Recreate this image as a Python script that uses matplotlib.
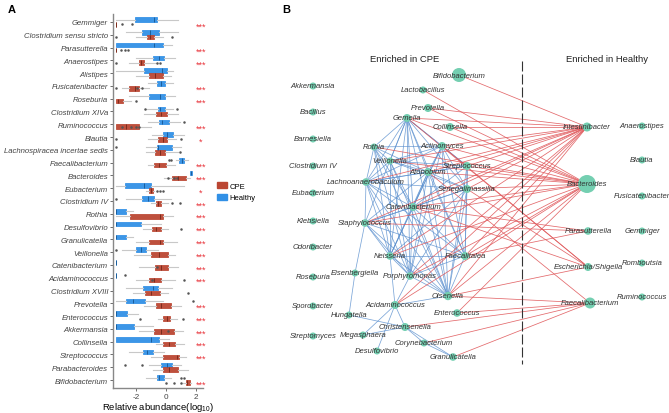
import matplotlib.pyplot as plt
from matplotlib.patches import Circle, Patch

plt.rcParams['font.family'] = ['Liberation Sans', 'DejaVu Sans']
plt.rcParams['mathtext.fontset'] = 'custom'
plt.rcParams['mathtext.rm'] = 'Liberation Sans'

# ---------------- panel A data (log10 relative abundance) ----------------
genera = ['Gemmiger', 'Clostridium sensu stricto', 'Parasutterella', 'Anaerostipes',
          'Alistipes', 'Fusicatenibacter', 'Roseburia', 'Clostridium XIVa',
          'Ruminococcus', 'Blautia', 'Lachnospiracea incertae sedis', 'Faecalibacterium',
          'Bacteroides', 'Eubacterium', 'Clostridium IV', 'Rothia', 'Desulfovibrio',
          'Granulicatella', 'Veillonella', 'Catenibacterium', 'Acidaminococcus',
          'Clostridium XVIII', 'Prevotella', 'Enterococcus', 'Akkermansia',
          'Collinsella', 'Streptococcus', 'Parabacteroides', 'Bifidobacterium']

# [whisker low, q1, median, q3, whisker high]
healthy_stats = [
    [-3.33, -2.04, -0.78, -0.58, 0.78], [-2.67, -1.60, -1.04, -0.44, 0.78],
    [-3.33, -3.33, -0.78, -0.18, 0.40], [-2.00, -0.84, -0.49, -0.11, 0.56],
    [-3.33, -1.44, -0.27, 0.04, 0.44], [-1.20, -0.62, -0.33, -0.04, 0.44],
    [-2.44, -1.16, -0.40, -0.04, 0.56], [-1.33, -0.56, -0.40, -0.04, 0.44],
    [-1.20, -0.44, -0.27, 0.22, 0.90], [-0.90, -0.22, 0.04, 0.44, 1.20],
    [-1.33, -0.62, -0.56, 0.40, 1.00], [0.67, 0.89, 1.04, 1.18, 1.44],
    [1.58, 1.60, 1.67, 1.71, 1.73], [-3.33, -2.71, -1.44, -1.00, 1.20],
    [-2.67, -1.62, -1.22, -0.78, 0.33], [-3.33, -3.33, -3.33, -2.67, -2.22],
    [-3.33, -3.33, -3.33, -1.67, -0.33], [-3.33, -3.33, -3.33, -2.67, -2.22],
    [-2.90, -2.00, -1.67, -1.33, -0.56], [-3.33, -3.33, -3.33, -3.33, -3.33],
    [-3.33, -3.33, -3.33, -3.33, -3.33], [-2.67, -1.51, -0.89, -0.56, 0.40],
    [-3.33, -2.67, -2.22, -1.38, -0.18], [-3.33, -3.33, -3.33, -2.62, -1.89],
    [-3.33, -3.33, -3.33, -2.11, -0.89], [-3.33, -3.33, -1.00, -0.44, 0.22],
    [-2.44, -1.51, -1.29, -0.84, -0.11], [-1.11, -0.33, 0.04, 0.40, 1.00],
    [-1.33, -0.62, -0.44, -0.11, 0.33]]
healthy_fliers = [[], [], [], [], [], [], [], [-1.4, 0.7], [1.2], [], [-3.33],
                  [0.2, 0.35], [], [], [-3.33], [], [], [], [-3.33], [], [-2.7],
                  [], [1.8], [], [], [], [], [-2.7, -1.6], [1.0, 1.2]]

cpe_stats = [
    [-3.33, -3.33, -3.33, -3.33, -3.33], [-2.00, -1.29, -1.07, -0.82, -0.22],
    [-3.33, -3.33, -3.33, -3.33, -3.33], [-2.44, -1.78, -1.64, -1.49, -0.67],
    [-2.00, -1.11, -0.76, -0.18, 0.33], [-2.90, -2.44, -2.04, -1.78, -1.10],
    [-3.33, -3.33, -3.20, -2.84, -2.30], [-1.44, -0.67, -0.33, 0.04, 0.78],
    [-3.33, -3.33, -2.67, -1.82, -1.00], [-1.20, -0.51, -0.18, 0.04, 0.67],
    [-1.33, -0.71, -0.40, -0.04, 0.78], [-1.20, -0.82, -0.44, 0.00, 0.56],
    [-0.11, 0.40, 0.78, 1.29, 1.56], [-1.33, -1.11, -1.00, -0.89, -0.78],
    [-1.00, -0.67, -0.51, -0.33, 0.11], [-3.33, -2.40, -0.40, -0.18, 0.44],
    [-1.56, -0.93, -0.67, -0.33, 0.11], [-2.00, -1.16, -0.40, -0.18, 0.71],
    [-2.10, -1.00, -0.44, 0.11, 0.56], [-1.78, -0.73, -0.33, 0.11, 0.78],
    [-2.00, -1.16, -0.78, -0.33, 0.56], [-2.22, -1.38, -1.00, -0.40, 0.11],
    [-1.44, -0.67, -0.33, 0.33, 1.00], [-0.56, -0.22, 0.04, 0.29, 0.71],
    [-1.78, -0.82, -0.33, 0.51, 1.10], [-0.67, -0.18, 0.22, 0.62, 1.22],
    [-1.00, -0.18, 0.71, 0.84, 1.33], [-0.89, -0.18, 0.22, 0.78, 1.44],
    [1.15, 1.29, 1.40, 1.56, 1.65]]
cpe_fliers = [[-2.9, -2.25], [-3.33, 0.38], [-3.0, -2.7, -2.5], [-3.33, -0.6, -0.4],
              [], [-3.33, -1.9, -1.6], [-2.0], [], [-2.9, -2.3, -2.0, -1.8],
              [-3.33, 1.0], [0.9], [], [0.1, 0.5, 0.7], [-0.6, -0.4, -0.2],
              [0.4, 0.9], [], [1.0], [], [], [-0.6], [-0.9, 1.2], [1.44], [],
              [-1.7, 1.1], [0.1], [], [], [], [0.0, 0.5, 1.0]]

significance = ['***', '', '***', '***', '', '***', '***', '', '***', '*', '',
                '***', '***', '*', '***', '***', '***', '***', '***', '***', '***',
                '', '***', '***', '***', '***', '***', '', '***']

# ---------------- panel B data (network layout, pixel positions) ----------------
node_names = ['Akkermansia', 'Bacillus', 'Barnesiella', 'Clostridium IV', 'Eubacterium',
              'Klebsiella', 'Odoribacter', 'Roseburia', 'Sporobacter', 'Streptomyces',
              'Bifidobacterium', 'Lactobacillus', 'Prevotella', 'Gemella', 'Collinsella',
              'Rothia', 'Actinomyces', 'Veillonella', 'Atopobium', 'Streptococcus',
              'Lachnoanaerobaculum', 'Senegalimassilia', 'Catenibacterium',
              'Staphylococcus', 'Neisseria', 'Faecalitalea', 'Eisenbergiella',
              'Porphyromonas', 'Olsenella', 'Acidaminococcus', 'Enterococcus',
              'Hungatella', 'Christensenella', 'Megasphaera', 'Corynebacterium',
              'Desulfovibrio', 'Granulicatella',
              'Intestinibacter', 'Anaerostipes', 'Blautia', 'Bacteroides',
              'Fusicatenibacter', 'Parasutterella', 'Gemmiger', 'Escherichia/Shigella',
              'Romboutsia', 'Faecalibacterium', 'Ruminococcus']
node_x = [313, 313, 313, 313, 313, 313, 313, 313, 313, 313,
          459, 423, 428, 407, 450, 374, 442, 390, 428, 467,
          366, 467, 413, 365, 390, 465, 355, 410, 448, 395,
          457, 349, 405, 363, 424, 377, 453,
          587, 642, 642, 587, 642, 588, 642, 588, 642, 590, 642]
node_y = [87, 113, 140, 167, 194, 222, 248, 278, 307, 337,
          76, 91, 109, 119, 128, 148, 147, 162, 173, 167,
          183, 190, 208, 224, 257, 257, 274, 277, 297, 306,
          314, 316, 328, 336, 344, 352, 358,
          128, 127, 161, 185, 197, 232, 232, 268, 264, 304, 298]
node_r = [3.5, 3.5, 3.5, 3.5, 3.5, 3.5, 3.5, 3.5, 3.5, 3.5,
          7.0, 3.5, 4.0, 4.0, 4.0, 3.5, 4.0, 3.5, 4.0, 4.0,
          3.8, 4.0, 4.0, 3.8, 3.8, 4.0, 3.5, 3.8, 4.2, 4.0,
          3.8, 3.5, 4.0, 3.5, 3.5, 3.5, 3.8,
          4.5, 3.5, 3.5, 9.0, 3.5, 3.8, 3.5, 4.0, 3.5, 5.5, 3.5]

blue_edges = [
    ('Gemella', t) for t in ['Rothia', 'Veillonella', 'Actinomyces', 'Atopobium',
                             'Lachnoanaerobaculum', 'Catenibacterium', 'Senegalimassilia',
                             'Staphylococcus', 'Neisseria', 'Porphyromonas', 'Olsenella',
                             'Faecalitalea', 'Streptococcus']] + [
    ('Rothia', t) for t in ['Veillonella', 'Lachnoanaerobaculum', 'Atopobium',
                            'Catenibacterium', 'Neisseria', 'Olsenella', 'Porphyromonas',
                            'Actinomyces']] + [
    ('Veillonella', t) for t in ['Atopobium', 'Actinomyces', 'Lachnoanaerobaculum',
                                 'Catenibacterium', 'Neisseria', 'Olsenella',
                                 'Porphyromonas', 'Senegalimassilia', 'Streptococcus']] + [
    ('Actinomyces', t) for t in ['Atopobium', 'Streptococcus', 'Senegalimassilia',
                                 'Catenibacterium', 'Lachnoanaerobaculum', 'Olsenella',
                                 'Faecalitalea', 'Porphyromonas', 'Neisseria']] + [
    ('Atopobium', t) for t in ['Streptococcus', 'Senegalimassilia', 'Lachnoanaerobaculum',
                               'Catenibacterium', 'Olsenella', 'Faecalitalea',
                               'Porphyromonas', 'Neisseria', 'Staphylococcus']] + [
    ('Streptococcus', t) for t in ['Senegalimassilia', 'Catenibacterium', 'Olsenella',
                                   'Faecalitalea', 'Lachnoanaerobaculum']] + [
    ('Lachnoanaerobaculum', t) for t in ['Catenibacterium', 'Staphylococcus', 'Neisseria',
                                         'Porphyromonas', 'Olsenella', 'Senegalimassilia',
                                         'Faecalitalea']] + [
    ('Senegalimassilia', t) for t in ['Catenibacterium', 'Olsenella', 'Faecalitalea',
                                      'Neisseria', 'Porphyromonas', 'Staphylococcus']] + [
    ('Catenibacterium', t) for t in ['Staphylococcus', 'Neisseria', 'Porphyromonas',
                                     'Olsenella', 'Faecalitalea']] + [
    ('Staphylococcus', t) for t in ['Neisseria', 'Porphyromonas', 'Olsenella',
                                    'Eisenbergiella', 'Faecalitalea']] + [
    ('Neisseria', t) for t in ['Porphyromonas', 'Olsenella', 'Faecalitalea',
                               'Acidaminococcus']] + [
    ('Porphyromonas', 'Olsenella'), ('Porphyromonas', 'Acidaminococcus'),
    ('Porphyromonas', 'Faecalitalea'), ('Olsenella', 'Faecalitalea'),
    ('Olsenella', 'Acidaminococcus'), ('Eisenbergiella', 'Hungatella'),
    ('Hungatella', 'Christensenella'), ('Acidaminococcus', 'Megasphaera'),
    ('Acidaminococcus', 'Christensenella'), ('Acidaminococcus', 'Desulfovibrio'),
    ('Christensenella', 'Corynebacterium'), ('Christensenella', 'Megasphaera'),
    ('Christensenella', 'Granulicatella'), ('Corynebacterium', 'Granulicatella')]

red_edges = [
    ('Intestinibacter', s) for s in ['Bifidobacterium', 'Gemella', 'Prevotella',
                                     'Collinsella', 'Actinomyces', 'Streptococcus',
                                     'Atopobium', 'Senegalimassilia', 'Catenibacterium',
                                     'Lachnoanaerobaculum', 'Veillonella', 'Staphylococcus',
                                     'Faecalitalea', 'Neisseria', 'Olsenella',
                                     'Porphyromonas', 'Acidaminococcus']] + [
    ('Bacteroides', s) for s in ['Lactobacillus', 'Gemella', 'Prevotella', 'Collinsella',
                                 'Actinomyces', 'Streptococcus', 'Atopobium',
                                 'Senegalimassilia', 'Catenibacterium', 'Rothia',
                                 'Veillonella', 'Staphylococcus', 'Neisseria',
                                 'Faecalitalea', 'Olsenella', 'Porphyromonas',
                                 'Acidaminococcus', 'Enterococcus']] + [
    ('Parasutterella', s) for s in ['Catenibacterium', 'Staphylococcus',
                                    'Faecalitalea']] + [
    ('Escherichia/Shigella', s) for s in ['Gemella', 'Actinomyces', 'Senegalimassilia',
                                          'Olsenella', 'Catenibacterium']] + [
    ('Faecalibacterium', s) for s in ['Atopobium', 'Enterococcus', 'Christensenella',
                                      'Corynebacterium', 'Granulicatella', 'Olsenella']]

blue = '#3190e6'
red = '#bb4632'

fig = plt.figure(figsize=(6.69, 4.14), dpi=100)

# ---------------- panel A ----------------
ax = fig.add_axes([113 / 669, 1 - 389 / 414, 90 / 669, 374 / 414])


def make_stats(stats, fliers):
    out = []
    for s, f in zip(stats, fliers):
        out.append(dict(whislo=s[0], q1=s[1], med=s[2], q3=s[3], whishi=s[4],
                        fliers=f))
    return out


rows = list(range(len(genera)))
for stats, fliers, off, col, dark in [(healthy_stats, healthy_fliers, -0.19, blue, '#1b5e9c'),
                                     (cpe_stats, cpe_fliers, 0.19, red, '#7a2b1d')]:
    ax.bxp(make_stats(stats, fliers), positions=[r + off for r in rows],
           widths=0.36, orientation='horizontal', patch_artist=True,
           showcaps=False, manage_ticks=False,
           boxprops=dict(facecolor=col, edgecolor=col, linewidth=0.6, alpha=0.95),
           whiskerprops=dict(color='#c8c8c8', linewidth=0.8),
           medianprops=dict(color=dark, linewidth=0.7),
           flierprops=dict(marker='o', markersize=0.8, markerfacecolor='#555',
                           markeredgecolor='#555', linestyle='none'))

for r, sig in zip(rows, significance):
    if sig:
        ax.text(2.3, r + 0.3, sig, color='#e8333a', fontsize=6.5, ha='center',
                va='center', clip_on=False)

ax.set_xlim(-3.52, 2.45)
ax.set_ylim(28.62, -0.62)
ax.set_yticks(rows)
ax.set_yticklabels(genera, fontsize=5.6, style='italic', color='#444')
ax.set_xticks([-2, 0, 2])
ax.set_xticklabels(['-2', '0', '2'], fontsize=5.9, color='#444')
ax.tick_params(length=2, width=0.6, color='#555', pad=1.5)
for side in ['top', 'right']:
    ax.spines[side].set_visible(False)
for side in ['left', 'bottom']:
    ax.spines[side].set_color('#888')
    ax.spines[side].set_linewidth(1.0)
ax.set_xlabel('Relative abundance' + r'$\left(\mathregular{log_{10}}\right)$',
              fontsize=6.8, labelpad=0)

ax.legend(handles=[Patch(facecolor=red, edgecolor=red, label='CPE'),
                   Patch(facecolor=blue, edgecolor=blue, label='Healthy')],
          loc='center left', bbox_to_anchor=(1.08, 0.525), frameon=False,
          fontsize=5.5, handlelength=1.3, handleheight=0.9, handletextpad=0.3,
          labelspacing=0.5)

fig.text(8 / 669, 1 - 10 / 414, 'A', fontsize=8, fontweight='bold', va='center')
fig.text(282 / 669, 1 - 10 / 414, 'B', fontsize=8, fontweight='bold', va='center')

# ---------------- panel B ----------------
bx = fig.add_axes([280 / 669, 0, 389 / 669, 1])
bx.set_xlim(280, 669)
bx.set_ylim(414, 0)
bx.axis('off')

pos = {n: (x, y) for n, x, y in zip(node_names, node_x, node_y)}
for a, b in blue_edges:
    bx.plot([pos[a][0], pos[b][0]], [pos[a][1], pos[b][1]], color='#5a8fce',
            lw=0.55, alpha=0.8, zorder=1)
for a, b in red_edges:
    bx.plot([pos[a][0], pos[b][0]], [pos[a][1], pos[b][1]], color='#e0585b',
            lw=0.55, alpha=0.9, zorder=1)

bx.plot([521.7, 521.7], [62, 365], color='#333', lw=0.8, dashes=(9, 2.7), zorder=1)

for n, x, y, r in zip(node_names, node_x, node_y, node_r):
    bx.add_patch(Circle((x, y), r, facecolor='#74cfb1', edgecolor='none', zorder=2))
    bx.text(x, y, n, fontsize=5.5, style='italic', color='#333', ha='center',
            va='center', zorder=3)

bx.text(405, 59, 'Enriched in CPE', fontsize=6.8, color='#222', ha='center', va='center')
bx.text(607, 59, 'Enriched in Healthy', fontsize=6.8, color='#222', ha='center',
        va='center')

fig.savefig('out.png', dpi=100)
